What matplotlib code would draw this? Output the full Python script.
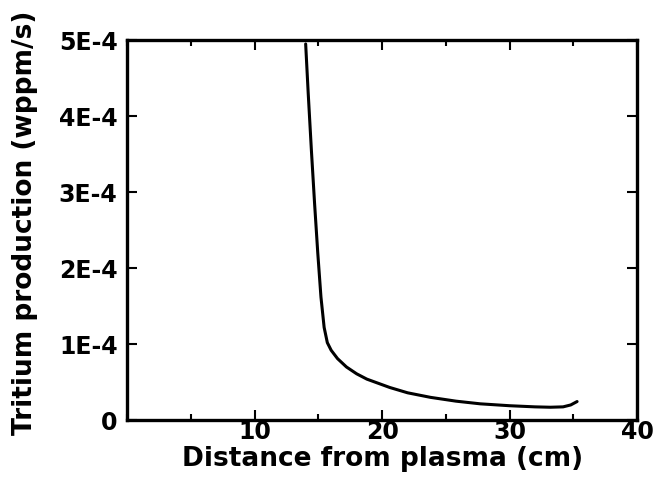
import numpy as np
import matplotlib
matplotlib.use('Agg')
import matplotlib.pyplot as plt
from matplotlib.ticker import MultipleLocator

# Data
distance_cm = [14.0, 14.2, 14.45, 14.7, 14.95, 15.2, 15.45, 15.7, 16.0, 16.5,
               17.2, 18.0, 18.8, 20.6, 22.0, 23.8, 25.8, 27.7, 30.0, 32.0,
               33.2, 34.2, 34.8, 35.3]
tritium_rate = [4.95e-4, 4.30e-4, 3.55e-4, 2.85e-4, 2.20e-4, 1.62e-4, 1.22e-4,
                1.02e-4, 0.92e-4, 0.81e-4, 0.70e-4, 0.61e-4, 0.54e-4, 0.43e-4,
                0.36e-4, 0.30e-4, 0.25e-4, 0.215e-4, 0.19e-4, 0.175e-4,
                0.17e-4, 0.175e-4, 0.20e-4, 0.245e-4]

x_ticks = [10, 20, 30, 40]
x_ticklabels = ['10', '20', '30', '40']
y_ticks = [0, 1e-4, 2e-4, 3e-4, 4e-4, 5e-4]
y_ticklabels = ['0', '1E-4', '2E-4', '3E-4', '4E-4', '5E-4']

plt.rcParams.update({
    'font.family': 'DejaVu Sans',
    'font.weight': 'bold',
})

fig = plt.figure(figsize=(6.56, 4.78), dpi=100)
ax = fig.add_axes([0.194, 0.121, 0.777, 0.795])

ax.plot(distance_cm, tritium_rate, color='black', lw=2.2,
        solid_capstyle='round', solid_joinstyle='round')

ax.set_xlim(0, 40)
ax.set_ylim(0, 5e-4)
ax.set_xticks(x_ticks)
ax.set_xticklabels(x_ticklabels, fontsize=17, fontweight='bold')
ax.set_yticks(y_ticks)
ax.set_yticklabels(y_ticklabels, fontsize=17, fontweight='bold')
ax.xaxis.set_minor_locator(MultipleLocator(5))

ax.tick_params(which='both', direction='in', top=True, right=True, width=1.5)
ax.tick_params(which='major', length=7)
ax.tick_params(axis='x', which='major', pad=0)
ax.tick_params(axis='y', which='major', pad=7)
ax.tick_params(which='minor', length=4)
ax.tick_params(axis='y', which='minor', left=False, right=False)

for sp in ax.spines.values():
    sp.set_linewidth(2.4)

ax.set_xlabel('Distance from plasma (cm)', fontsize=19, fontweight='bold', labelpad=1)
ax.set_ylabel('Tritium production (wppm/s)', fontsize=19, fontweight='bold')
ax.yaxis.set_label_coords(-0.175, 0.52)

fig.savefig('out.png', dpi=100)
